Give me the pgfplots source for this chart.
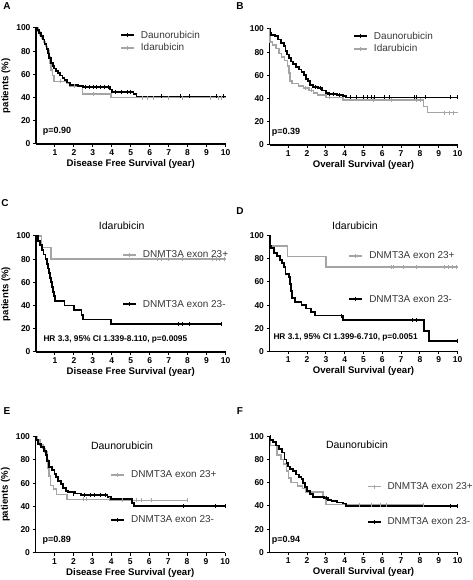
\documentclass[border=0pt]{standalone}
\usepackage{pgfplots}
\pgfplotsset{compat=1.18}
\usepackage{fontspec}
\setmainfont{Liberation Sans}
\definecolor{kmgray}{RGB}{165,165,165}
\definecolor{txtgray}{RGB}{55,55,55}
\pgfplotsset{
 km/.style={
  scale only axis, height=116pt,
  xmin=0, xmax=10, ymin=0, ymax=100,
  axis lines=left, axis line style={-, line width=1.1pt},
  xtick={1,...,10}, ytick={0,20,...,100},
  tick align=outside, major tick length=3pt,
  every tick/.style={black, line width=1pt},
  /pgf/number format/assume math mode=true,
  tick label style={font=\bfseries\fontsize{8.5}{9}\selectfont},
  xticklabel style={yshift=1pt},
  yticklabel style={xshift=1pt},
  label style={font=\bfseries\fontsize{9.6}{11}\selectfont},
  xlabel style={yshift=3pt},
  ylabel style={yshift=-1pt},
  clip=false,
  legend cell align=left,
  legend style={draw=none, fill=none, inner sep=0pt, font=\fontsize{10}{11}\selectfont, text=txtgray, anchor=north west, nodes={inner sep=1pt},
    /tikz/every odd column/.append style={column sep=5pt}},
 },
 kmblack/.style={black, line width=1.8pt, const plot, mark=none,
   legend image code/.code={\draw[##1] plot coordinates {(0pt,0pt)(13pt,0pt)}; \draw[##1, line width=0.8pt] plot coordinates {(6.5pt,-2pt)(6.5pt,2pt)};}},
 kmgrayl/.style={kmgray, line width=1.5pt, const plot, mark=none,
   legend image code/.code={\draw[##1] plot coordinates {(0pt,0pt)(13pt,0pt)}; \draw[##1, line width=0.8pt] plot coordinates {(6.5pt,-2pt)(6.5pt,2pt)};}},
 cenb/.style={only marks, mark=|, mark size=2pt, mark options={black, line width=0.7pt}, forget plot},
 ceng/.style={only marks, mark=|, mark size=2pt, mark options={kmgray, line width=0.7pt}, forget plot},
}
\begin{document}
\begin{tikzpicture}
\path[use as bounding box] (0pt,0pt) rectangle (473pt,580pt);

% ---------- A ----------
\begin{axis}[km, width=189.5pt, at={(36pt,436pt)}, anchor=south west,
  xlabel={Disease Free Survival (year)}, ylabel={patients (\%)},
  reverse legend, legend style={at={(axis description cs:0.443,0.985)}, row sep=2pt}]
\addplot[kmgrayl] coordinates {(0,100)(0.1,97)(0.2,94)(0.3,91)(0.4,88)(0.5,84)(0.6,80)(0.7,75)(0.75,70)(0.8,64)(0.88,59)(0.95,54)(1.6,52)(1.8,50)(2.45,43)(3.95,40)(10,40)};
\addlegendentry{Idarubicin}
\addplot[ceng] coordinates {(1.3,54)(2.0,50)(3.0,43)(5.6,40)(5.9,40)(6.2,40)(7.0,40)(7.7,40)(9.2,40)(9.6,40)(9.8,40)};
\addplot[kmblack] coordinates {(0,100)(0.08,98)(0.15,96)(0.25,93)(0.35,90)(0.45,86)(0.55,82)(0.62,78)(0.7,74)(0.8,70)(0.88,67)(0.95,65)(1.05,63)(1.15,61)(1.25,59)(1.4,57)(1.5,55)(1.65,53)(1.8,51)(2.2,50)(2.5,49)(3.9,47)(4.0,45)(5.15,43)(5.3,41)(10,41)};
\addlegendentry{Daunorubicin}
\addplot[cenb] coordinates {(2.6,49)(2.8,49)(3.0,49)(3.2,49)(3.4,49)(3.6,49)(3.8,49)(4.2,45)(4.5,45)(4.8,45)(5.0,45)(6.6,41)(7.6,41)(8.1,41)(9.5,41)(9.9,41)};
\end{axis}

% ---------- B ----------
\begin{axis}[km, width=188pt, at={(269.5pt,435pt)}, anchor=south west,
  xlabel={Overall Survival (year)},
  reverse legend, legend style={at={(axis description cs:0.444,0.985)}, row sep=2pt}]
\addplot[kmgrayl] coordinates {(0,100)(0.02,89)(0.15,86)(0.35,83)(0.5,79)(0.65,76)(0.8,73)(0.95,68)(1.05,62)(1.1,55)(1.2,53)(1.55,51)(1.8,49)(2.1,47)(2.35,45)(2.55,43)(3.0,41)(3.9,39)(8.2,33)(8.4,28)(10,28)};
\addlegendentry{Idarubicin}
\addplot[ceng] coordinates {(1.9,49)(2.2,47)(3.2,41)(5.5,39)(6.5,39)(7.8,39)(8.0,39)(9.3,28)(9.55,28)(9.8,28)};
\addplot[kmblack] coordinates {(0,100)(0.05,97)(0.1,95)(0.3,94)(0.45,91)(0.6,88)(0.75,85)(0.85,81)(0.95,78)(1.05,75)(1.15,72)(1.25,70)(1.4,67)(1.55,65)(1.7,63)(1.85,60)(1.95,57)(2.05,55)(2.15,52)(2.3,50)(2.6,49)(2.8,47)(3.0,45)(3.1,44)(3.6,43)(3.9,42)(4.05,41)(10,41)};
\addlegendentry{Daunorubicin}
\addplot[cenb] coordinates {(2.45,50)(2.7,49)(3.2,44)(3.4,44)(3.7,43)(4.3,41)(4.6,41)(5.0,41)(5.2,41)(5.4,41)(5.6,41)(6.1,41)(6.4,41)(7.7,41)(7.8,41)(8.3,41)(9.6,41)(10,41)};
\end{axis}

% ---------- C ----------
\begin{axis}[km, width=189.5pt, at={(36pt,228pt)}, anchor=south west,
  xlabel={Disease Free Survival (year)}, ylabel={patients (\%)},
  legend style={at={(axis description cs:0.453,0.885)}, row sep=39pt}]
\addplot[kmgrayl] coordinates {(0,100)(0.3,90)(0.8,80)(10,80)};
\addlegendentry{DNMT3A exon 23+}
\addplot[ceng] coordinates {(6.4,80)(6.6,80)(7.0,80)(7.7,80)(9.3,80)(9.5,80)(9.7,80)(9.95,80)};
\addplot[kmblack] coordinates {(0,100)(0.1,96)(0.2,92)(0.3,88)(0.4,84)(0.5,80)(0.6,76)(0.65,72)(0.7,68)(0.75,64)(0.8,60)(0.85,56)(0.9,52)(0.95,48)(1.0,44)(1.5,40)(2.0,36)(2.4,32)(2.5,28)(3.95,24)(9.8,24)};
\addlegendentry{DNMT3A exon 23-}
\addplot[cenb] coordinates {(7.5,24)(7.7,24)(8.1,24)(9.8,24)};
\end{axis}

% ---------- D ----------
\begin{axis}[km, width=188pt, at={(269.5pt,228.5pt)}, anchor=south west,
  xlabel={Overall Survival (year)},
  legend style={at={(axis description cs:0.419,0.872)}, row sep=33pt}]
\addplot[kmgrayl] coordinates {(0,100)(0.05,91)(0.95,82)(3.0,73)(10,73)};
\addlegendentry{DNMT3A exon 23+}
\addplot[ceng] coordinates {(6.5,73)(6.6,73)(7.1,73)(7.8,73)(9.3,73)(9.5,73)(9.7,73)(9.95,73)};
\addplot[kmblack] coordinates {(0,100)(0.03,91)(0.1,89)(0.25,85)(0.4,82)(0.55,79)(0.65,76)(0.75,73)(0.85,67)(1.05,64)(1.1,58)(1.15,52)(1.2,46)(1.35,43)(1.7,40)(1.95,37)(2.2,34)(2.4,31)(3.9,27)(8.2,18)(8.5,9)(10,9)};
\addlegendentry{DNMT3A exon 23-}
\addplot[cenb] coordinates {(3.8,31)(7.6,27)(7.8,27)(10,9)};
\end{axis}

% ---------- E ----------
\begin{axis}[km, width=189.5pt, at={(35.5pt,27.3pt)}, anchor=south west,
  xlabel={Disease Free Survival (year)}, ylabel={patients (\%)},
  legend style={at={(axis description cs:0.394,0.715)}, row sep=34pt}]
\addplot[kmgrayl] coordinates {(0,100)(0.1,97)(0.25,93)(0.4,90)(0.5,87)(0.6,80)(0.65,73)(0.7,66)(0.8,58)(0.95,55)(1.1,50)(1.65,46)(3.95,45)(8,45)};
\addlegendentry{DNMT3A exon 23+}
\addplot[ceng] coordinates {(2.55,46)(2.7,46)(3.9,46)(4.6,45)(5.3,45)(5.6,45)(6.1,45)(8.0,45)};
\addplot[kmblack] coordinates {(0,100)(0.05,97)(0.15,94)(0.3,91)(0.45,88)(0.55,84)(0.62,79)(0.7,74)(0.85,71)(1.0,68)(1.1,65)(1.2,62)(1.35,59)(1.45,56)(1.6,53)(1.7,52)(2.1,51)(2.4,50)(3.8,48)(4.0,46)(5.1,43)(5.2,40)(10,40)};
\addlegendentry{DNMT3A exon 23-}
\addplot[cenb] coordinates {(2.0,51)(2.6,50)(2.9,50)(3.1,50)(3.4,50)(3.7,50)(7.8,40)(9.5,40)(10,40)};
\end{axis}

% ---------- F ----------
\begin{axis}[km, width=188pt, at={(269.5pt,27.7pt)}, anchor=south west,
  xlabel={Overall Survival (year)},
  legend style={at={(axis description cs:0.516,0.613)}, row sep=25pt}]
\addplot[kmgrayl] coordinates {(0,100)(0.05,92)(0.4,84)(0.6,80)(0.75,76)(0.9,70)(1.0,64)(1.15,60)(1.5,57)(1.75,55)(1.95,52)(2.85,48)(3.0,41)(8.2,41)};
\addlegendentry{DNMT3A exon 23+}
\addplot[ceng] coordinates {(4.8,41)(5.4,41)(5.9,41)(6.2,41)(8.2,41)};
\addplot[kmblack] coordinates {(0,100)(0.05,97)(0.2,95)(0.35,92)(0.5,89)(0.65,86)(0.8,80)(0.9,77)(1.0,74)(1.1,72)(1.25,70)(1.4,67)(1.55,65)(1.7,63)(1.8,60)(1.9,56)(2.0,53)(2.15,50)(2.3,48)(2.9,47)(3.1,45)(3.3,44)(3.6,43)(3.9,42)(4.05,40)(10,40)};
\addlegendentry{DNMT3A exon 23-}
\addplot[cenb] coordinates {(3.0,47)(9.6,40)(10,40)};
\end{axis}

% ---------- annotations ----------
\begin{scope}[every node/.style={inner sep=0pt}]
\node[font=\bfseries\fontsize{10}{11}\selectfont] at (7pt,574pt) {A};
\node[font=\bfseries\fontsize{10}{11}\selectfont] at (240pt,574pt) {B};
\node[font=\bfseries\fontsize{10}{11}\selectfont] at (5pt,376.7pt) {C};
\node[font=\bfseries\fontsize{10}{11}\selectfont] at (240pt,368.7pt) {D};
\node[font=\bfseries\fontsize{10}{11}\selectfont] at (7pt,169.3pt) {E};
\node[font=\bfseries\fontsize{10}{11}\selectfont] at (240pt,168.7pt) {F};
\node[anchor=west, font=\bfseries\fontsize{9}{10}\selectfont] at (42.7pt,448.3pt) {p=0.90};
\node[anchor=west, font=\bfseries\fontsize{9}{10}\selectfont] at (271.7pt,447.3pt) {p=0.39};
\node[anchor=west, font=\bfseries\fontsize{8.3}{9}\selectfont] at (43.3pt,241pt) {HR 3.3, 95\% CI 1.339-8.110, p=0.0095};
\node[anchor=west, font=\bfseries\fontsize{8.3}{9}\selectfont] at (273.3pt,242.3pt) {HR 3.1, 95\% CI 1.399-6.710, p=0.0051};
\node[anchor=west, font=\bfseries\fontsize{9}{10}\selectfont] at (42.3pt,39.3pt) {p=0.89};
\node[anchor=west, font=\bfseries\fontsize{9}{10}\selectfont] at (271.7pt,39.7pt) {p=0.94};
\node[font=\fontsize{10.5}{12}\selectfont] at (121.7pt,354pt) {Idarubicin};
\node[font=\fontsize{10.5}{12}\selectfont] at (355pt,354pt) {Idarubicin};
\node[font=\fontsize{10.5}{12}\selectfont] at (122pt,134pt) {Daunorubicin};
\node[font=\fontsize{10.5}{12}\selectfont] at (357pt,135pt) {Daunorubicin};
\end{scope}
\end{tikzpicture}
\end{document}
